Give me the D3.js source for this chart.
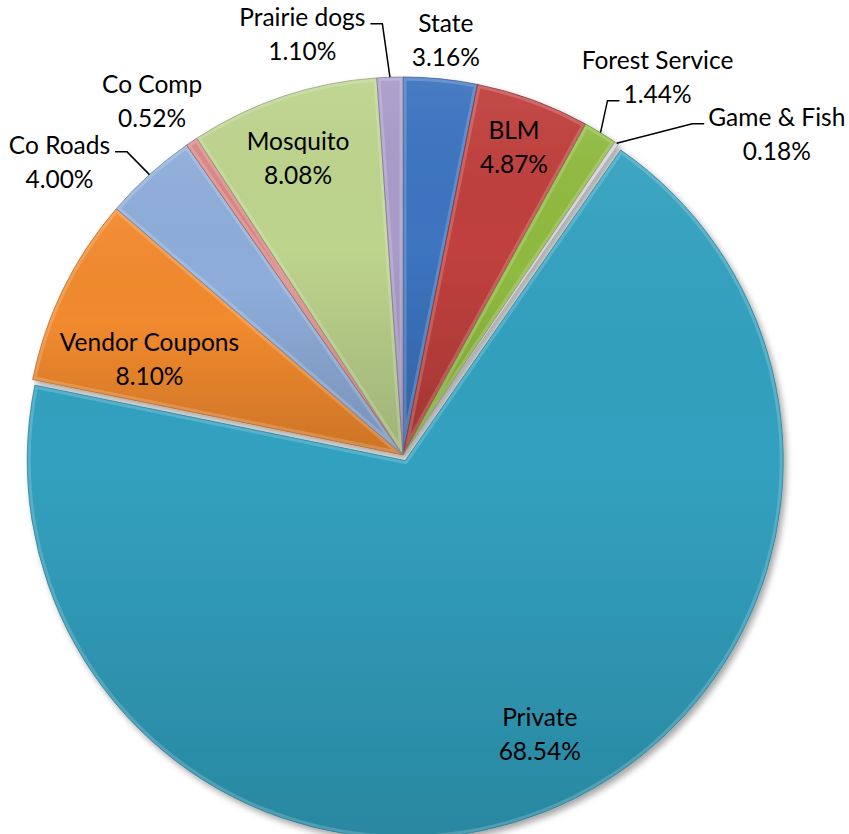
<!DOCTYPE html>
<html lang="en">
  <head>
    <meta charset="utf-8">
    <title>Land share pie</title>
    <script type="text/javascript" src="https://d3js.org/d3.v7.min.js"></script>
    <style>
      body { margin: 0; background: #fff; }
      text { font-family: Lato, "Open Sans", sans-serif; font-size: 24.5px; fill: #000; }
    </style>
  </head>
  <body>
    <script type="text/javascript">
      // slices, clockwise from 12 o'clock
      const names = ["State", "BLM", "Forest Service", "Game & Fish", "Private",
                     "Vendor Coupons", "Co Roads", "Co Comp", "Mosquito", "Prairie dogs"]
      const shares = [3.16, 4.87, 1.44, 0.18, 68.54, 8.10, 4.00, 0.52, 8.08, 1.10]
      const colors = ["#3c74c0", "#c0403d", "#8fba3f", "#cfcfd6", "#32a1bf",
                      "#f28a2e", "#8eadda", "#d98583", "#bdd48d", "#aa9cca"]

      // label placement: shift from the slice mid angle (deg), distance as a share of radius,
      // and which text line the leader line meets (-1 = no leader)
      const labelShift  = [0.2, -0.3, 2.5, 15, -4.3, -5.4, -7.5, -1.4, -1.0, -11.5]
      const labelRadius = [1.103, 0.865, 1.204, 1.302, 0.807, 0.717, 1.193, 1.146, 0.831, 1.143]
      const leaderLine  = [-1, -1, 1, 0, -1, -1, 0, -1, -1, 0]
      const explode     = [0, 0, 0, 0, 6, 0, 0, 0, 0, 0]

      const w = 849, h = 834
      const cx = 403, cy = 455, r = 378
      const lineGap = 34

      const svg = d3.select("body").append("svg")
                    .attr("width", w).attr("height", h)

      const defs = svg.append("defs")
      const shade = defs.append("linearGradient")
                        .attr("id", "shade")
                        .attr("x1", 0).attr("y1", 0).attr("x2", 0).attr("y2", 1)
      shade.append("stop").attr("offset", "0%").attr("stop-color", "#fff").attr("stop-opacity", 0.06)
      shade.append("stop").attr("offset", "45%").attr("stop-color", "#000").attr("stop-opacity", 0.0)
      shade.append("stop").attr("offset", "100%").attr("stop-color", "#000").attr("stop-opacity", 0.16)

      const shadow = defs.append("filter").attr("id", "shadow")
                         .attr("x", "-10%").attr("y", "-10%").attr("width", "120%").attr("height", "120%")
      shadow.append("feDropShadow")
            .attr("dx", 3).attr("dy", 4).attr("stdDeviation", 3)
            .attr("flood-color", "#000").attr("flood-opacity", 0.35)

      const pie = d3.pie().sort(null).value(d => d)
      const arcs = pie(shares)
      const arc = d3.arc().innerRadius(0).outerRadius(r)

      const mid = (d) => (d.startAngle + d.endAngle) / 2
      const offset = (d, i) => {
        const a = mid(d)
        return [Math.sin(a) * explode[i], -Math.cos(a) * explode[i]]
      }

      const g = svg.append("g").attr("transform", `translate(${cx},${cy})`)
      const pieG = g.append("g").attr("filter", "url(#shadow)")

      const slices = pieG.selectAll("g.slice")
        .data(arcs)
        .enter()
        .append("g")
        .attr("class", "slice")
        .attr("transform", (d, i) => `translate(${offset(d, i)})`)

      slices.append("clipPath")
        .attr("id", (d, i) => `clip${i}`)
        .append("path")
        .attr("d", arc)

      slices.append("path")
        .attr("d", arc)
        .attr("fill", (d, i) => colors[i])

      slices.append("path")
        .attr("d", arc)
        .attr("fill", "url(#shade)")

      // bevel: light rim inside each slice
      slices.append("path")
        .attr("d", arc)
        .attr("fill", "none")
        .attr("stroke", "#fff")
        .attr("stroke-opacity", 0.18)
        .attr("stroke-width", 7)
        .attr("stroke-linejoin", "round")
        .attr("clip-path", (d, i) => `url(#clip${i})`)

      slices.append("path")
        .attr("d", arc)
        .attr("fill", "none")
        .attr("stroke", (d, i) => d3.color(colors[i]).darker(0.9))
        .attr("stroke-opacity", 0.7)
        .attr("stroke-width", 1)

      // labels
      const labelPos = (d, i) => {
        const a = mid(d) + labelShift[i] * Math.PI / 180
        const k = labelRadius[i] * r
        const o = offset(d, i)
        return [Math.sin(a) * k + o[0], -Math.cos(a) * k + o[1]]
      }

      const pcts = shares.map(v => d3.format(".2f")(v) + "%")

      const labels = g.selectAll("text.label")
        .data(arcs)
        .enter()
        .append("text")
        .attr("class", "label")
        .attr("text-anchor", "middle")
        .attr("transform", (d, i) => `translate(${labelPos(d, i)})`)

      labels.append("tspan")
        .attr("x", 0).attr("y", -lineGap / 2).attr("dy", "0.35em")
        .text((d, i) => names[i])
      labels.append("tspan")
        .attr("x", 0).attr("y", lineGap / 2).attr("dy", "0.35em")
        .text((d, i) => pcts[i])

      // leader lines
      arcs.forEach((d, i) => {
        if (leaderLine[i] < 0) return
        const a = mid(d)
        const start = [Math.sin(a) * r, -Math.cos(a) * r]
        const p = labelPos(d, i)
        const span = labels.filter((e, j) => j === i).selectAll("tspan").nodes()[leaderLine[i]]
        const half = span.getComputedTextLength() / 2
        const ly = p[1] + (leaderLine[i] === 0 ? -lineGap / 2 : lineGap / 2) + 6
        const left = p[0] < 0
        const endX = left ? p[0] + half + 5 : p[0] - half - 4
        const elbowX = left ? endX + 12 : endX - 12
        g.append("polyline")
          .attr("points", [start, [elbowX, ly], [endX, ly]].map(q => q.join(",")).join(" "))
          .attr("fill", "none")
          .attr("stroke", "#000")
          .attr("stroke-width", 1.5)
      })
    </script>
  </body>
</html>
